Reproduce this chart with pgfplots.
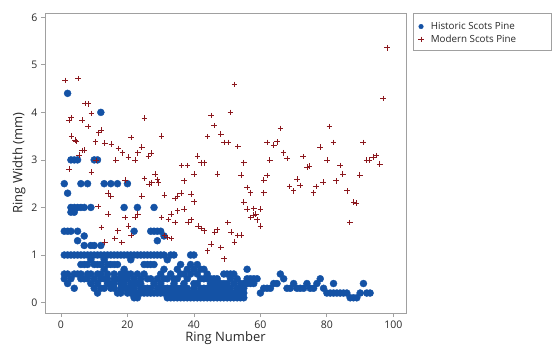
\documentclass[border=0pt]{standalone}
\usepackage{pgfplots}
\pgfplotsset{compat=1.18}
\usepackage{pgfplotstable}
\usepackage{fontspec}
\setmainfont{Open Sans}
\definecolor{hblue}{RGB}{20,82,165}
\definecolor{mred}{RGB}{140,24,30}
\definecolor{framegray}{RGB}{160,160,160}
\definecolor{txt}{RGB}{40,40,40}

\pgfplotstableread{
x y
1 2.5
1 1.5
1 1.0
1 0.6
1 0.5
2 4.4
2 2.3
2 1.5
2 1.0
2 0.4
2 0.6
3 3.0
3 2.0
3 1.9
3 1.5
3 1.0
3 0.5
4 3.0
4 2.0
4 1.9
4 1.0
4 0.3
4 0.6
5 3.0
5 2.0
5 1.5
5 1.3
5 1.0
5 0.6
6 2.5
6 2.0
6 1.0
6 0.8
6 0.5
6 0.6
7 2.0
7 1.4
7 1.2
7 1.0
7 0.8
7 0.5
8 2.5
8 1.0
8 0.5
8 0.6
8 0.8
9 2.0
9 1.2
9 1.0
9 0.9
9 0.6
9 0.4
10 3.0
10 1.2
10 1.0
10 0.5
10 0.3
10 0.8
11 3.0
11 1.0
11 0.8
11 0.4
11 0.2
11 0.6
12 4.0
12 1.2
12 1.0
12 0.6
12 0.5
12 0.3
12 0.8
13 2.5
13 1.0
13 0.7
13 0.5
13 0.3
13 0.9
14 1.0
14 0.6
14 0.4
14 0.5
14 0.8
15 2.5
15 1.0
15 0.8
15 0.4
15 0.3
16 1.0
16 0.8
16 0.6
16 0.3
16 0.4
16 0.5
17 2.5
17 1.0
17 0.8
17 0.5
17 0.2
18 1.0
18 0.5
18 0.3
18 0.4
18 0.2
18 0.6
19 2.0
19 1.0
19 0.6
19 0.5
19 0.4
19 0.3
19 0.7
20 2.5
20 1.0
20 0.5
20 0.3
20 0.2
20 0.6
21 1.0
21 0.9
21 0.4
21 0.3
21 0.2
21 0.6
22 1.5
22 1.0
22 0.5
22 0.3
22 0.1
22 0.2
22 0.4
23 2.0
23 1.0
23 0.6
23 0.4
23 0.1
23 0.2
24 1.0
24 0.5
24 0.3
24 0.2
24 0.4
25 1.0
25 0.8
25 0.6
25 0.3
25 0.2
26 1.0
26 0.8
26 0.5
26 0.3
26 0.2
27 1.5
27 1.0
27 0.8
27 0.3
27 0.5
27 0.2
28 2.0
28 1.5
28 1.0
28 0.8
28 0.2
28 0.4
29 1.5
29 1.3
29 1.0
29 0.5
29 0.3
29 0.2
30 1.5
30 1.0
30 0.6
30 0.4
30 0.2
30 0.3
31 1.4
31 1.0
31 0.7
31 0.5
31 0.3
31 0.2
32 0.9
32 0.5
32 0.2
32 0.1
32 0.3
33 1.0
33 0.6
33 0.3
33 0.1
33 0.2
34 1.0
34 0.5
34 0.4
34 0.2
34 0.1
34 0.3
35 0.7
35 0.5
35 0.3
35 0.1
35 0.2
36 0.8
36 0.6
36 0.2
36 0.1
36 0.3
37 0.6
37 0.4
37 0.3
37 0.1
37 0.2
38 0.7
38 0.5
38 0.2
38 0.1
38 0.3
39 1.0
39 0.8
39 0.6
39 0.1
39 0.2
40 1.0
40 0.7
40 0.3
40 0.2
40 0.1
40 0.4
41 0.8
41 0.6
41 0.4
41 0.1
41 0.2
42 0.7
42 0.5
42 0.3
42 0.1
42 0.2
43 0.7
43 0.5
43 0.2
43 0.1
43 0.3
44 0.6
44 0.5
44 0.3
44 0.1
44 0.2
45 0.5
45 0.4
45 0.2
45 0.1
45 0.3
46 0.5
46 0.4
46 0.3
46 0.1
46 0.2
47 0.5
47 0.3
47 0.2
47 0.1
47 0.4
48 0.4
48 0.3
48 0.1
48 0.2
49 0.6
49 0.3
49 0.2
49 0.1
49 0.4
50 0.6
50 0.4
50 0.1
50 0.2
50 0.3
51 0.6
51 0.3
51 0.2
51 0.1
51 0.5
52 0.6
52 0.2
52 0.1
52 0.4
53 0.5
53 0.3
53 0.1
53 0.2
54 0.4
54 0.2
54 0.1
54 0.3
55 0.4
55 0.1
55 0.2
55 0.3
56 0.7
56 0.5
56 0.4
57 0.5
57 0.4
58 0.5
58 0.4
59 0.5
60 0.2
61 0.3
62 0.3
63 0.3
64 0.4
65 0.4
66 0.6
67 0.5
68 0.3
69 0.3
70 0.4
71 0.3
72 0.3
73 0.3
74 0.4
75 0.3
76 0.3
77 0.4
78 0.5
79 0.3
80 0.2
81 0.2
82 0.4
82 0.2
83 0.2
84 0.2
85 0.2
86 0.2
87 0.1
88 0.1
89 0.1
90 0.2
91 0.4
92 0.2
93 0.2
}\historic

\pgfplotstableread{
x y
1.2 4.67
5.2 4.71
2.4 3.83
3.0 3.89
3.2 3.50
4.2 3.42
4.6 3.39
2.4 2.81
6.4 3.84
7.2 4.19
8.2 4.18
9.2 3.98
8.2 3.70
6.4 3.20
7.0 3.21
5.4 3.10
10.4 3.38
11.4 3.57
12.2 3.63
10.6 2.99
9.2 2.74
11.2 2.02
13.2 3.35
15.2 3.33
17.3 3.24
18.5 3.15
16.5 3.00
14.2 2.30
15.0 2.23
14.2 1.86
12.2 1.58
13.2 1.27
17.1 1.51
16.2 1.35
18.3 1.26
19.3 1.79
19.3 2.58
20.3 3.06
21.1 3.47
22.3 3.00
23.1 3.15
24.3 3.27
25.1 3.88
20.3 1.61
21.1 1.41
22.3 1.79
23.1 1.86
24.3 2.24
25.1 2.61
26.5 2.49
27.3 2.52
26.3 3.08
27.1 3.14
28.3 2.70
29.1 2.59
29.3 2.52
30.3 3.50
31.1 2.26
30.3 1.79
32.3 1.75
33.1 1.86
32.1 1.37
33.3 1.35
31.1 1.41
34.3 1.68
34.3 2.19
35.1 2.24
36.1 2.30
36.3 2.88
38.1 2.88
35.1 1.93
37.1 1.97
37.1 2.56
39.1 2.28
40.1 2.12
40.1 2.70
41.1 3.08
42.1 2.94
43.1 2.94
38.3 1.68
39.1 1.74
41.2 1.61
42.2 1.56
43.1 1.51
44.1 3.49
45.1 3.93
46.1 3.72
48.1 3.54
49.1 3.37
50.4 3.37
47.1 2.70
45.1 1.23
44.1 1.09
46.3 1.48
47.1 1.53
48.1 1.16
49.1 0.92
50.2 1.68
51.2 1.48
51.0 4.00
52.2 4.59
53.2 3.28
52.2 1.27
53.2 1.41
54.2 1.42
54.2 2.68
55.0 2.94
55.0 2.11
56.0 1.97
56.0 2.42
57.0 2.31
57.0 1.79
58.0 1.98
58.0 1.84
58.6 1.86
59.0 1.74
60.0 1.97
60.0 1.61
61.0 2.31
61.0 2.58
62.0 2.67
62.0 3.37
62.8 3.00
64.0 3.31
65.0 3.38
66.0 3.66
67.0 3.15
68.0 3.03
68.8 2.44
70.0 2.35
71.0 2.60
72.0 2.46
72.8 3.07
74.0 2.85
74.8 2.87
76.0 2.31
76.8 2.44
78.0 3.27
78.8 2.53
80.0 3.00
80.8 3.70
82.0 3.37
82.8 2.56
84.0 2.88
84.8 2.70
86.1 2.35
86.9 1.68
88.1 2.11
88.9 2.09
89.9 2.68
90.9 3.37
91.9 3.00
92.7 3.00
93.9 3.06
94.9 3.09
95.9 2.91
96.9 4.29
98.1 5.36
}\modern

\begin{document}
\begin{tikzpicture}
\path[use as bounding box] (-45pt,-36pt) rectangle (507pt,313pt);
\begin{axis}[
  name=ax,
  scale only axis,
  width=361pt, height=300pt,
  xmin=-4.8, xmax=103.8,
  ymin=-0.22, ymax=6.09,
  xtick={0,20,...,100},
  ytick={0,1,...,6},
  tick align=outside,
  tick pos=left,
  major tick length=4pt,
  axis line style={framegray, line width=0.9pt},
  every tick/.style={framegray, line width=0.8pt},
  /pgf/number format/assume math mode=true,
  tick label style={font=\fontsize{10.5}{12}\selectfont, text=txt},
  xlabel={Ring Number},
  ylabel={Ring Width (mm)},
  label style={font=\fontsize{13}{15}\selectfont, text=txt},
  xlabel style={yshift=3pt},
  ylabel style={yshift=-1pt},
  legend style={at={(1.025,0.99)}, anchor=north west, draw=none, fill=none,
    font=\fontsize{9.8}{11}\selectfont, text=txt,
    inner xsep=3pt, inner ysep=4pt, row sep=0pt, column sep=5pt},
  legend cell align=left,
]
\addplot[only marks, mark=*, mark size=3.5pt, color=hblue, mark options={draw=hblue, fill=hblue}] table[x=x,y=y] {\historic};
\addlegendimage{only marks, mark=*, mark size=2.3pt, color=hblue, mark options={draw=hblue, fill=hblue}}
\addplot[only marks, mark=+, mark size=2.8pt, color=mred, mark options={line width=0.75pt}] table[x=x,y=y] {\modern};
\addlegendimage{only marks, mark=+, mark size=2.8pt, color=mred, mark options={line width=0.75pt}}
\legend{,Historic Scots Pine,,Modern Scots Pine}
\end{axis}
\draw[framegray, line width=0.8pt] ([xshift=7pt]ax.north east) rectangle ++(138pt,-37pt);
\end{tikzpicture}
\end{document}
